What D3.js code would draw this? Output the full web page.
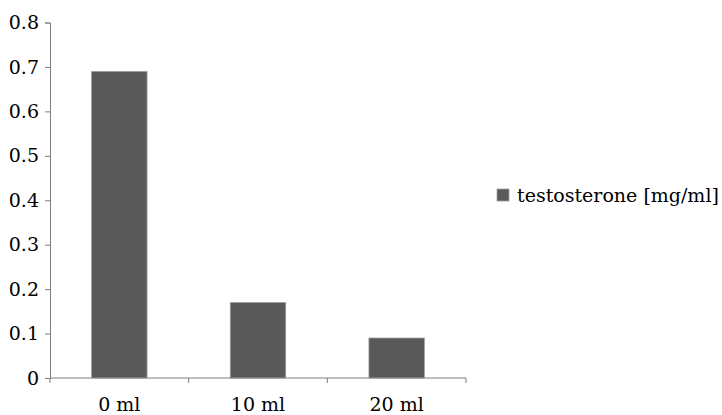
<!DOCTYPE html>
<html>
<head>
<meta charset="utf-8">
<script src="https://cdn.jsdelivr.net/npm/d3@7"></script>
<style>
  body { margin: 0; background: #fff; }
  svg text { font-family: "DejaVu Serif", "Liberation Serif", serif; font-size: 19px; fill: #000; }
</style>
</head>
<body>
<svg id="chart" width="722" height="415"></svg>
<script>
var categories = ['0 ml', '10 ml', '20 ml'];
var values = [0.69, 0.17, 0.09];
var seriesName = 'testosterone [mg/ml]';
var yTicks = [0, 0.1, 0.2, 0.3, 0.4, 0.5, 0.6, 0.7, 0.8];

var svg = d3.select('#chart');

var x = d3.scaleBand()
  .domain(categories)
  .range([50, 466])
  .paddingInner(0.6)
  .paddingOuter(0.3);

var y = d3.scaleLinear()
  .domain([0, 0.8])
  .range([378, 22.5]);

// bars
svg.selectAll('rect.bar')
  .data(values)
  .enter()
  .append('rect')
  .classed('bar', true)
  .attr('x', (d, i) => x(categories[i]))
  .attr('y', d => y(d))
  .attr('width', x.bandwidth())
  .attr('height', d => y(0) - y(d))
  .attr('fill', '#595959')
  .attr('stroke', '#a0a0a0')
  .attr('stroke-width', 0.8);

// y axis
var yAxis = svg.append('g')
  .attr('transform', 'translate(50,0)')
  .call(d3.axisLeft(y).tickValues(yTicks).tickSize(5).tickPadding(6)
    .tickFormat(d => d === 0 ? '0' : d3.format('.1f')(d)));

yAxis.attr('font-size', null).attr('font-family', null);
yAxis.select('.domain').attr('stroke', '#7f7f7f');
yAxis.selectAll('.tick line').attr('stroke', '#7f7f7f');

// x axis, ticks at band boundaries
var bounds = d3.range(categories.length + 1).map(i => 50 + i * (466 - 50) / categories.length);
var xAxis = svg.append('g').attr('transform', 'translate(0,378)');
xAxis.append('line')
  .attr('x1', 50).attr('x2', 466)
  .attr('stroke', '#7f7f7f');
xAxis.selectAll('line.tick')
  .data(bounds)
  .enter()
  .append('line')
  .classed('tick', true)
  .attr('x1', d => d).attr('x2', d => d)
  .attr('y1', 0).attr('y2', 5)
  .attr('stroke', '#7f7f7f');
xAxis.selectAll('text')
  .data(categories)
  .enter()
  .append('text')
  .attr('x', d => x(d) + x.bandwidth() / 2)
  .attr('y', 33)
  .attr('text-anchor', 'middle')
  .text(d => d);

// legend
var legend = svg.append('g').attr('transform', 'translate(497,189)');
legend.append('rect')
  .attr('width', 12).attr('height', 12)
  .attr('fill', '#595959')
  .attr('stroke', '#a0a0a0')
  .attr('stroke-width', 0.8);
legend.append('text')
  .attr('x', 20)
  .attr('y', 13)
  .text(seriesName);
</script>
</body>
</html>
